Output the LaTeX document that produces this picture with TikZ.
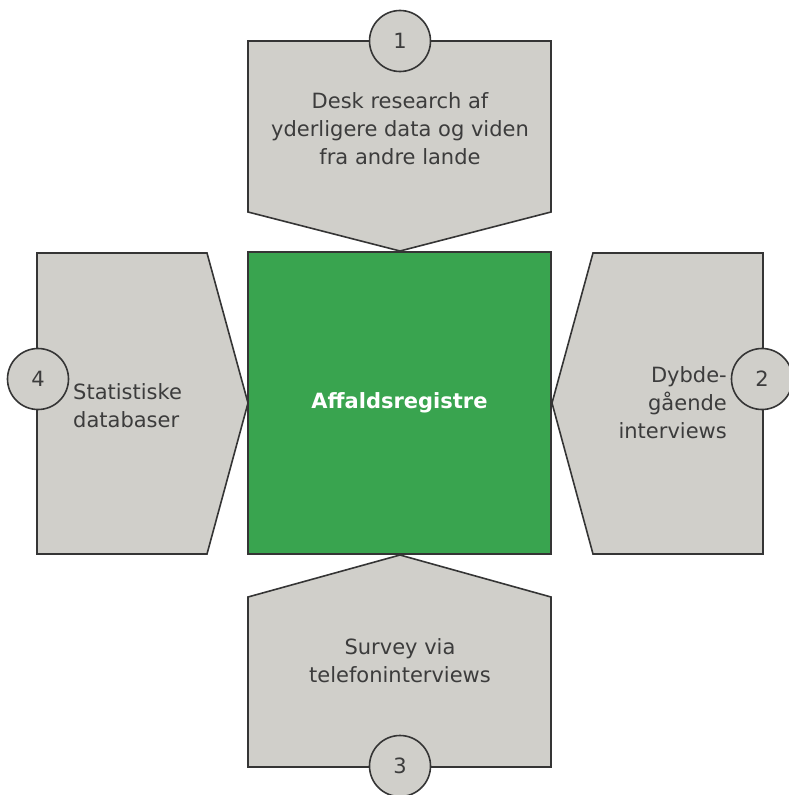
\documentclass[tikz,border=0pt]{standalone}
\usepackage{fontspec}
\setmainfont{DejaVu Sans}
\definecolor{boxgray}{HTML}{D0CFCA}
\definecolor{edge}{HTML}{353535}
\definecolor{txt}{HTML}{3C3C3C}
\definecolor{green}{HTML}{39A44F}
\begin{document}
\begin{tikzpicture}[x=1pt,y=-1pt,
  shapebox/.style={fill=boxgray,draw=edge,line width=1.6pt,line join=miter},
  numcirc/.style={circle,fill=boxgray,draw=edge,line width=1.6pt,minimum size=61pt,inner sep=0pt,text=txt,font=\fontsize{21}{26}\selectfont},
  label/.style={text=txt,font=\fontsize{21}{28}\selectfont,inner sep=0pt}]
\useasboundingbox (0,0) rectangle (789,795);
% pentagons
\draw[shapebox] (248,41) -- (551,41) -- (551,212) -- (400,251) -- (248,212) -- cycle;
\draw[shapebox] (37,253) -- (207,253) -- (248,403) -- (207,554) -- (37,554) -- cycle;
\draw[shapebox] (763,253) -- (593,253) -- (552,403) -- (593,554) -- (763,554) -- cycle;
\draw[shapebox] (248,597) -- (400,555) -- (551,597) -- (551,767) -- (248,767) -- cycle;
% center
\node[draw=edge,fill=green,line width=1.6pt,minimum width=303pt,minimum height=302pt,inner sep=0pt,
  text=white,font=\fontsize{21}{26}\selectfont\bfseries] (center) at (399.5,403) {Affaldsregistre};
% circles
\node[numcirc] (c1) at (400,41) {1};
\node[numcirc] (c2) at (762,379) {2};
\node[numcirc] (c3) at (400,766) {3};
\node[numcirc] (c4) at (38,379) {4};
% labels
\node[label,align=center] (t1) at (400,129) {Desk research af\\yderligere data og viden\\fra andre lande};
\node[label,align=left,anchor=west] (t4) at (73,406) {Statistiske\\databaser};
\node[label,align=right,anchor=east] (t2) at (727,403) {Dybde-\\gående\\interviews};
\node[label,align=center] (t3) at (400,661) {Survey via\\telefoninterviews};
\end{tikzpicture}
\end{document}
